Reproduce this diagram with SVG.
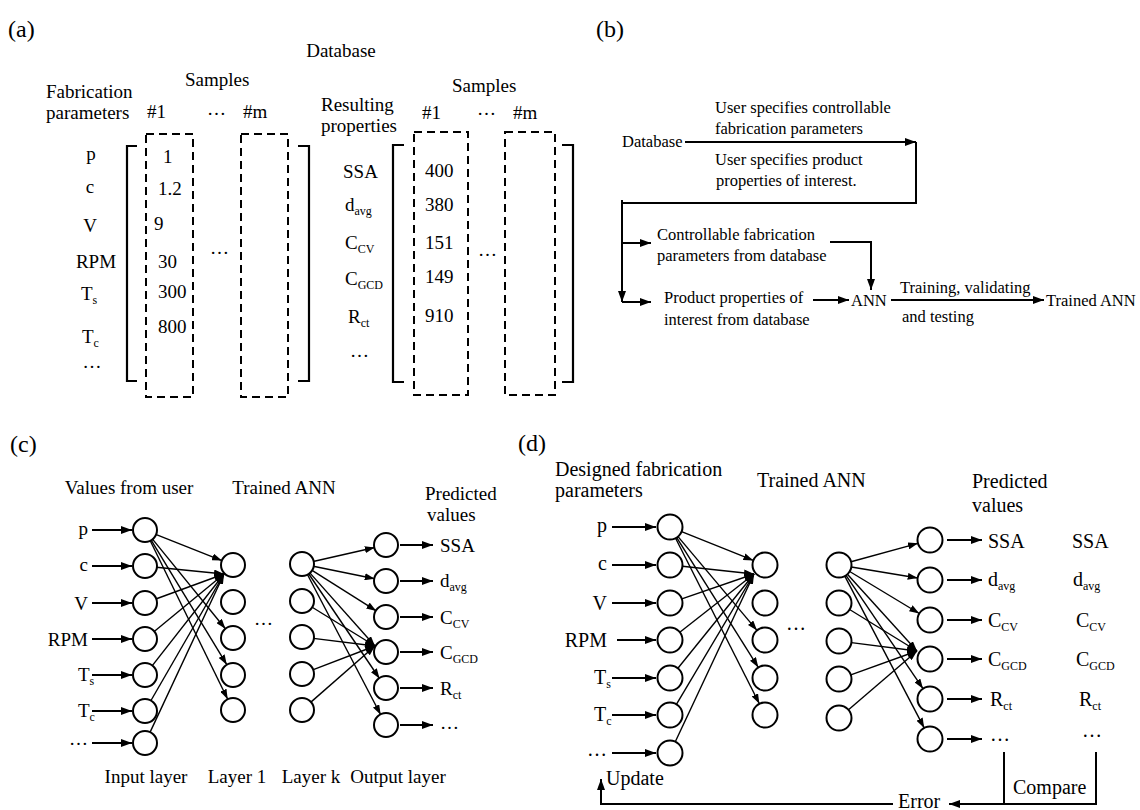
<svg xmlns="http://www.w3.org/2000/svg" width="1140" height="810" viewBox="0 0 1140 810">
<style>
text{font-family:"Liberation Serif","Times New Roman",serif;fill:#000}
.pl{font-size:24px}
.a{font-size:19px}
.b{font-size:16.5px}
.c{font-size:19px}
.d{font-size:20px}
.s{font-size:12px}
.dash{fill:none;stroke:#000;stroke-width:2;stroke-dasharray:8 5}
.br{fill:none;stroke:#000;stroke-width:2.2}
.n{fill:#fff;stroke:#000;stroke-width:2}
.e{stroke:#000;stroke-width:1.4;fill:none;marker-end:url(#hs)}
.ar{stroke:#000;stroke-width:2;fill:none;marker-end:url(#h)}
.ln{stroke:#000;stroke-width:2;fill:none}
</style>
<defs>
<marker id="h" markerUnits="userSpaceOnUse" markerWidth="11" markerHeight="8" refX="11" refY="4" orient="auto"><path d="M0,0L11,4L0,8z"/></marker>
<marker id="hs" markerUnits="userSpaceOnUse" markerWidth="10" markerHeight="7" refX="10" refY="3.5" orient="auto"><path d="M0,0L10,3.5L0,7z"/></marker>
</defs>
<rect width="1140" height="810" fill="#fff"/>

<!-- Panel (a) -->
<g id="panel-a">
<text class="pl" x="8" y="37">(a)</text>
<text class="a" x="341" y="57" text-anchor="middle">Database</text>
<g id="a-fab">
<text class="a" x="46" y="98">Fabrication</text>
<text class="a" x="46" y="119">parameters</text>
<text class="a" x="185" y="86">Samples</text>
<text class="a" x="147" y="118">#1</text>
<text class="a" x="207" y="115">…</text>
<text class="a" x="243" y="118">#m</text>
<path class="br" d="M137,146H127V381H137"/>
<path class="br" d="M298,146H309V381H298"/>
<rect class="dash" x="146" y="134" width="47" height="263"/>
<rect class="dash" x="241" y="134" width="47" height="263"/>
<text class="a" x="91" y="160" text-anchor="middle">p</text>
<text class="a" x="90" y="193" text-anchor="middle">c</text>
<text class="a" x="90" y="232" text-anchor="middle">V</text>
<text class="a" x="96" y="268" text-anchor="middle">RPM</text>
<text class="a" x="81" y="300">T<tspan class="s" dy="4">s</tspan></text>
<text class="a" x="82" y="343">T<tspan class="s" dy="4">c</tspan></text>
<text class="a" x="92" y="368" text-anchor="middle">…</text>
<text class="a" x="163" y="163">1</text>
<text class="a" x="158" y="195">1.2</text>
<text class="a" x="154" y="230">9</text>
<text class="a" x="158" y="268">30</text>
<text class="a" x="158" y="298">300</text>
<text class="a" x="158" y="333">800</text>
<text class="a" x="210" y="254">…</text>
</g>
<g id="a-res">
<text class="a" x="321" y="111">Resulting</text>
<text class="a" x="321" y="132">properties</text>
<text class="a" x="452" y="92">Samples</text>
<text class="a" x="422" y="119">#1</text>
<text class="a" x="477" y="115">…</text>
<text class="a" x="513" y="119">#m</text>
<path class="br" d="M404,145H393V382H404"/>
<path class="br" d="M562,145H573V382H562"/>
<rect class="dash" x="414" y="132" width="54" height="263"/>
<rect class="dash" x="505" y="132" width="50" height="263"/>
<text class="a" x="343" y="178">SSA</text>
<text class="a" x="345" y="211">d<tspan class="s" dy="4">avg</tspan></text>
<text class="a" x="345" y="249">C<tspan class="s" dy="4">CV</tspan></text>
<text class="a" x="345" y="285">C<tspan class="s" dy="4">GCD</tspan></text>
<text class="a" x="348" y="323">R<tspan class="s" dy="4">ct</tspan></text>
<text class="a" x="350" y="357">…</text>
<text class="a" x="425" y="177">400</text>
<text class="a" x="425" y="211">380</text>
<text class="a" x="425" y="249">151</text>
<text class="a" x="425" y="283">149</text>
<text class="a" x="425" y="322">910</text>
<text class="a" x="478" y="256">…</text>
</g>
</g>

<!-- Panel (b) -->
<g id="panel-b">
<text class="pl" x="596" y="37">(b)</text>
<g id="b-database"><text class="b" x="622" y="147">Database</text></g>
<g id="b-user1"><text class="b" x="715" y="113">User specifies controllable</text><text class="b" x="715" y="134">fabrication parameters</text></g>
<g id="b-user2"><text class="b" x="715" y="165">User specifies product</text><text class="b" x="716" y="186">properties of interest.</text></g>
<g id="b-ctrl"><text class="b" x="657" y="240">Controllable fabrication</text><text class="b" x="657" y="261">parameters from database</text></g>
<g id="b-prod"><text class="b" x="664" y="303">Product properties of</text><text class="b" x="664" y="325">interest from database</text></g>
<g id="b-ann"><text class="b" x="851" y="306">ANN</text></g>
<g id="b-trained"><text class="b" x="1046" y="306">Trained ANN</text></g>
<g id="b-edge-label"><text class="b" x="900" y="293">Training, validating</text><text class="b" x="902" y="322">and testing</text></g>
<g id="b-connectors">
<path class="ar" d="M685,142H916"/>
<path class="ln" d="M916,142V203H622V290"/>
<path class="ar" d="M622,200V302"/>
<path class="ar" d="M622,243H651"/>
<path class="ar" d="M622,302H651"/>
<path class="ar" d="M830,242H871V290"/>
<path class="ar" d="M813,300H849"/>
<path class="ar" d="M891,300H1044"/>
</g>
</g>

<!-- Panel (c) -->
<g id="panel-c">
<text class="pl" x="10" y="452">(c)</text>
<text class="c" x="129" y="494" text-anchor="middle">Values from user</text>
<text class="c" x="284" y="494" text-anchor="middle">Trained ANN</text>
<text class="c" x="425" y="500">Predicted</text>
<text class="c" x="427" y="521">values</text>
<text class="c" x="146" y="783" text-anchor="middle">Input layer</text>
<text class="c" x="237" y="783" text-anchor="middle">Layer 1</text>
<text class="c" x="311" y="783" text-anchor="middle">Layer k</text>
<text class="c" x="398" y="783" text-anchor="middle">Output layer</text>
<text class="c" x="254" y="625">…</text>
<g id="c-inputs-labels">
<text class="c" x="88" y="535" text-anchor="end">p</text>
<text class="c" x="88" y="571" text-anchor="end">c</text>
<text class="c" x="88" y="610" text-anchor="end">V</text>
<text class="c" x="88" y="646" text-anchor="end">RPM</text>
<text class="c" x="78" y="681">T<tspan class="s" dy="4">s</tspan></text>
<text class="c" x="78" y="717">T<tspan class="s" dy="4">c</tspan></text>
<text class="c" x="88" y="745" text-anchor="end">…</text>
</g>
<g id="c-outputs-labels">
<text class="c" x="440" y="552">SSA</text>
<text class="c" x="440" y="587">d<tspan class="s" dy="4">avg</tspan></text>
<text class="c" x="440" y="624">C<tspan class="s" dy="4">CV</tspan></text>
<text class="c" x="440" y="659">C<tspan class="s" dy="4">GCD</tspan></text>
<text class="c" x="440" y="695">R<tspan class="s" dy="4">ct</tspan></text>
<text class="c" x="440" y="729">…</text>
</g>
<g id="c-connectors">
<path class="ar" d="M92,530H132"/><path class="ar" d="M92,566H132"/><path class="ar" d="M92,603H132"/>
<path class="ar" d="M92,639H132"/><path class="ar" d="M92,675H132"/><path class="ar" d="M92,711H132"/>
<path class="ar" d="M92,743H132"/>
<path class="e" d="M155.7,534.3L221.9,560.6"/>
<path class="e" d="M152.3,538.9L225.4,628.7"/>
<path class="e" d="M151,539.8L226.8,664.7"/>
<path class="e" d="M150,540.3L227.7,699.2"/>
<path class="e" d="M156.4,567.2L224,574"/>
<path class="e" d="M155.8,599L224,574"/>
<path class="e" d="M153.9,631.7L224,574"/>
<path class="e" d="M152.1,665.9L224,574"/>
<path class="e" d="M150.7,701L224,574"/>
<path class="e" d="M149.9,732.6L224,574"/>
<path class="e" d="M313.2,561.5L374.8,547.5"/>
<path class="e" d="M313.3,566.3L374.7,578.7"/>
<path class="e" d="M311.7,570.1L376.3,610.9"/>
<path class="e" d="M309.6,572.6L375,646"/>
<path class="e" d="M308.5,573.5L379.5,678.5"/>
<path class="e" d="M307.3,574.2L380.7,714.8"/>
<path class="e" d="M311.8,607L375,646"/>
<path class="e" d="M313.4,638.4L375,646"/>
<path class="e" d="M312.7,669.9L375,646"/>
<path class="e" d="M310.6,702.4L375,646"/>
<path class="ar" d="M400,545H433"/><path class="ar" d="M400,581H433"/><path class="ar" d="M400,617H433"/>
<path class="ar" d="M400,652H433"/><path class="ar" d="M400,688H433"/><path class="ar" d="M400,725H433"/>
</g>
<g id="c-input-layer">
<circle class="n" cx="145" cy="530" r="12"/><circle class="n" cx="145" cy="566" r="12"/>
<circle class="n" cx="145" cy="603" r="12"/><circle class="n" cx="145" cy="639" r="12"/>
<circle class="n" cx="145" cy="675" r="12"/><circle class="n" cx="145" cy="711" r="12"/>
<circle class="n" cx="145" cy="743" r="12"/>
</g>
<g id="c-layer-1">
<circle class="n" cx="233" cy="565" r="12"/><circle class="n" cx="233" cy="602" r="12"/>
<circle class="n" cx="233" cy="638" r="12"/><circle class="n" cx="233" cy="675" r="12"/>
<circle class="n" cx="233" cy="710" r="12"/>
</g>
<g id="c-layer-k">
<circle class="n" cx="302" cy="564" r="12"/><circle class="n" cx="302" cy="601" r="12"/>
<circle class="n" cx="302" cy="637" r="12"/><circle class="n" cx="302" cy="674" r="12"/>
<circle class="n" cx="302" cy="710" r="12"/>
</g>
<g id="c-output-layer">
<circle class="n" cx="386" cy="545" r="12"/><circle class="n" cx="386" cy="581" r="12"/>
<circle class="n" cx="386" cy="617" r="12"/><circle class="n" cx="386" cy="652" r="12"/>
<circle class="n" cx="386" cy="688" r="12"/><circle class="n" cx="386" cy="725" r="12"/>
</g>
</g>

<!-- Panel (d) -->
<g id="panel-d">
<text class="pl" x="518" y="451">(d)</text>
<text class="d" x="555" y="476">Designed fabrication</text>
<text class="d" x="555" y="497">parameters</text>
<text class="d" x="757" y="487">Trained ANN</text>
<text class="d" x="972" y="488">Predicted</text>
<text class="d" x="972" y="512">values</text>
<text class="d" x="786" y="630">…</text>
<g id="d-inputs-labels">
<text class="d" x="607" y="532" text-anchor="end">p</text>
<text class="d" x="607" y="570" text-anchor="end">c</text>
<text class="d" x="607" y="610" text-anchor="end">V</text>
<text class="d" x="607" y="647" text-anchor="end">RPM</text>
<text class="d" x="594" y="684">T<tspan class="s" dy="4">s</tspan></text>
<text class="d" x="594" y="721">T<tspan class="s" dy="4">c</tspan></text>
<text class="d" x="607" y="756" text-anchor="end">…</text>
</g>
<g id="d-predicted-labels">
<text class="d" x="988" y="548">SSA</text>
<text class="d" x="988" y="586">d<tspan class="s" dy="4">avg</tspan></text>
<text class="d" x="988" y="627">C<tspan class="s" dy="4">CV</tspan></text>
<text class="d" x="988" y="666">C<tspan class="s" dy="4">GCD</tspan></text>
<text class="d" x="990" y="706">R<tspan class="s" dy="4">ct</tspan></text>
<text class="d" x="990" y="741">…</text>
</g>
<g id="d-target-labels">
<text class="d" x="1072" y="548">SSA</text>
<text class="d" x="1073" y="586">d<tspan class="s" dy="4">avg</tspan></text>
<text class="d" x="1076" y="627">C<tspan class="s" dy="4">CV</tspan></text>
<text class="d" x="1076" y="666">C<tspan class="s" dy="4">GCD</tspan></text>
<text class="d" x="1079" y="706">R<tspan class="s" dy="4">ct</tspan></text>
<text class="d" x="1082" y="737">…</text>
</g>
<g id="d-feedback-labels">
<text class="d" x="1013" y="794">Compare</text>
<text class="d" x="898" y="808">Error</text>
<text class="d" x="606" y="785">Update</text>
</g>
<g id="d-connectors">
<path class="ar" d="M612,527H656"/><path class="ar" d="M612,565H656"/><path class="ar" d="M612,603H656"/>
<path class="ar" d="M617,640H656"/><path class="ar" d="M612,678H656"/><path class="ar" d="M612,715H656"/>
<path class="ar" d="M612,753H656"/>
<path class="e" d="M681.6,531.6L753.4,560.4"/>
<path class="e" d="M678,536.6L757,630.4"/>
<path class="e" d="M676.7,537.6L758.3,667.4"/>
<path class="e" d="M675.6,538.2L759.4,703.8"/>
<path class="e" d="M682.4,566.3L754,574"/>
<path class="e" d="M681.8,598.9L754,574"/>
<path class="e" d="M679.8,632.3L754,574"/>
<path class="e" d="M677.9,668.3L754,574"/>
<path class="e" d="M676.4,704.3L754,574"/>
<path class="e" d="M675.3,741.7L754,574"/>
<path class="e" d="M851,561.7L918,543.3"/>
<path class="e" d="M851.3,567L917.7,578"/>
<path class="e" d="M849.7,571.5L919.3,613.5"/>
<path class="e" d="M847.4,574.3L917,651"/>
<path class="e" d="M846,575.3L923,688.7"/>
<path class="e" d="M844.8,576.1L924.2,727.9"/>
<path class="e" d="M849.6,609.5L917,651"/>
<path class="e" d="M851.4,642.6L917,651"/>
<path class="e" d="M850.8,674.8L917,651"/>
<path class="e" d="M848.5,709.8L917,651"/>
<path class="ar" d="M947,540H982"/><path class="ar" d="M947,580H982"/><path class="ar" d="M947,620H982"/>
<path class="ar" d="M947,659H982"/><path class="ar" d="M947,699H982"/><path class="ar" d="M947,739H982"/>
<path class="ln" d="M1004,752V804"/>
<path class="ar" d="M1096,752V804H949"/>
<path class="ln" d="M893,804H601"/>
<path class="ar" d="M601,805V779"/>
</g>
<g id="d-input-layer">
<circle class="n" cx="670" cy="527" r="12.5"/><circle class="n" cx="670" cy="565" r="12.5"/>
<circle class="n" cx="670" cy="603" r="12.5"/><circle class="n" cx="670" cy="640" r="12.5"/>
<circle class="n" cx="670" cy="678" r="12.5"/><circle class="n" cx="670" cy="715" r="12.5"/>
<circle class="n" cx="670" cy="753" r="12.5"/>
</g>
<g id="d-layer-1">
<circle class="n" cx="765" cy="565" r="12.5"/><circle class="n" cx="765" cy="603" r="12.5"/>
<circle class="n" cx="765" cy="640" r="12.5"/><circle class="n" cx="765" cy="678" r="12.5"/>
<circle class="n" cx="765" cy="715" r="12.5"/>
</g>
<g id="d-layer-k">
<circle class="n" cx="839" cy="565" r="12.5"/><circle class="n" cx="839" cy="603" r="12.5"/>
<circle class="n" cx="839" cy="641" r="12.5"/><circle class="n" cx="839" cy="679" r="12.5"/>
<circle class="n" cx="839" cy="718" r="12.5"/>
</g>
<g id="d-output-layer">
<circle class="n" cx="930" cy="540" r="12.5"/><circle class="n" cx="930" cy="580" r="12.5"/>
<circle class="n" cx="930" cy="620" r="12.5"/><circle class="n" cx="930" cy="659" r="12.5"/>
<circle class="n" cx="930" cy="699" r="12.5"/><circle class="n" cx="930" cy="739" r="12.5"/>
</g>
</g>
</svg>
